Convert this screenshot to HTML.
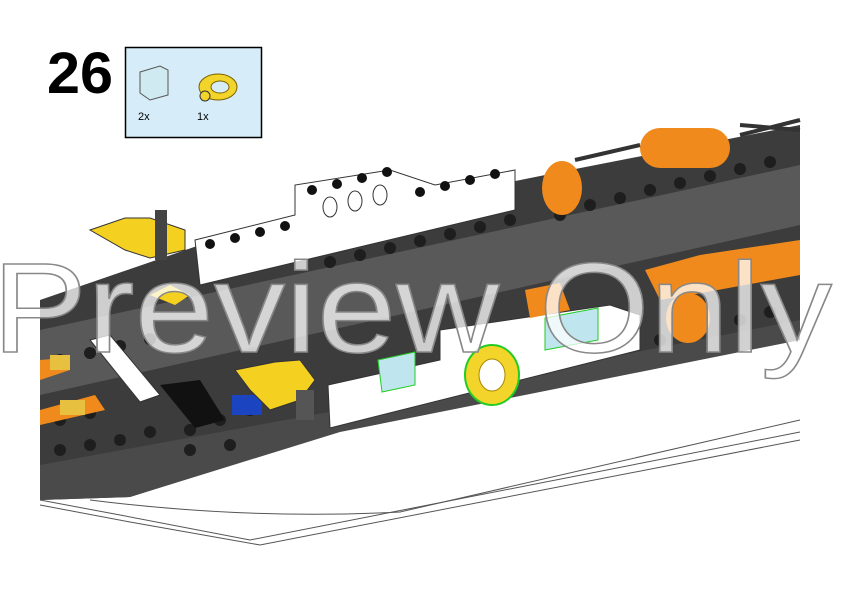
<!DOCTYPE html>
<html><head><style>
html,body{margin:0;padding:0;background:#fff;}
svg{display:block;}
</style></head><body>
<svg width="842" height="596" viewBox="0 0 842 596" xmlns="http://www.w3.org/2000/svg">
<rect width="842" height="596" fill="#fff"/>
<!-- hull lines -->
<g fill="none" stroke="#555" stroke-width="1">
<path d="M40,500 L120,515 L250,540 L800,432"/>
<path d="M40,505 L130,522 L260,545 L800,440"/>
<path d="M90,500 Q250,520 400,512 L800,420"/>
</g>
<!-- deck base -->
<polygon points="40,300 200,245 560,172 800,125 800,340 340,430 130,497 40,500" fill="#3c3c3c"/>
<!-- sloped lighter band -->
<polygon points="40,330 800,165 800,225 40,395" fill="#595959"/>
<!-- lower bottom band -->
<polygon points="40,465 340,410 800,320 800,340 340,432 130,497 40,500" fill="#4a4a4a"/>
<!-- studs upper rows -->
<g fill="#1e1e1e">
<circle cx="560" cy="215" r="6"/><circle cx="590" cy="205" r="6"/><circle cx="620" cy="198" r="6"/><circle cx="650" cy="190" r="6"/><circle cx="680" cy="183" r="6"/><circle cx="710" cy="176" r="6"/><circle cx="740" cy="169" r="6"/><circle cx="770" cy="162" r="6"/>
<circle cx="330" cy="262" r="6"/><circle cx="360" cy="255" r="6"/><circle cx="390" cy="248" r="6"/><circle cx="420" cy="241" r="6"/><circle cx="450" cy="234" r="6"/><circle cx="480" cy="227" r="6"/><circle cx="510" cy="220" r="6"/>
<circle cx="60" cy="360" r="6"/><circle cx="90" cy="353" r="6"/><circle cx="120" cy="346" r="6"/><circle cx="150" cy="339" r="6"/>
<circle cx="60" cy="420" r="6"/><circle cx="90" cy="413" r="6"/><circle cx="60" cy="450" r="6"/><circle cx="90" cy="445" r="6"/><circle cx="120" cy="440" r="6"/><circle cx="150" cy="432" r="6"/>
<circle cx="190" cy="430" r="6"/><circle cx="220" cy="420" r="6"/><circle cx="250" cy="410" r="6"/><circle cx="190" cy="450" r="6"/><circle cx="230" cy="445" r="6"/>
<circle cx="660" cy="340" r="6"/><circle cx="700" cy="330" r="6"/><circle cx="740" cy="320" r="6"/><circle cx="770" cy="312" r="6"/>
</g>
<!-- upper white bricks -->
<polygon points="195,240 295,215 295,185 390,170 435,185 515,170 515,210 200,285" fill="#fff" stroke="#333"/>
<g fill="#111"><circle cx="312" cy="190" r="5"/><circle cx="337" cy="184" r="5"/><circle cx="362" cy="178" r="5"/><circle cx="387" cy="172" r="5"/>
<circle cx="210" cy="244" r="5"/><circle cx="235" cy="238" r="5"/><circle cx="260" cy="232" r="5"/><circle cx="285" cy="226" r="5"/>
<circle cx="420" cy="192" r="5"/><circle cx="445" cy="186" r="5"/><circle cx="470" cy="180" r="5"/><circle cx="495" cy="174" r="5"/></g>
<g fill="none" stroke="#333"><ellipse cx="330" cy="207" rx="7" ry="10"/><ellipse cx="355" cy="201" rx="7" ry="10"/><ellipse cx="380" cy="195" rx="7" ry="10"/></g>
<!-- white lower bricks -->
<polygon points="328,385 440,360 440,330 610,305 640,315 640,350 330,428" fill="#fff" stroke="#333"/>
<polygon points="90,340 110,335 160,395 140,402" fill="#fff" stroke="#333"/>
<!-- trans clear -->
<polygon points="378,360 415,352 415,385 382,392" fill="#bfe6ee" stroke="#2c2"/>
<polygon points="545,318 598,308 598,340 545,350" fill="#bfe6ee" stroke="#2c2"/>
<!-- ring -->
<ellipse cx="492" cy="375" rx="27" ry="30" fill="#f2d42a" stroke="#2c2" stroke-width="2"/>
<ellipse cx="492" cy="375" rx="13" ry="16" fill="#fff" stroke="#a80"/>
<!-- black hole -->
<path d="M160,385 L200,380 L225,420 L195,428 Z" fill="#111"/>
<rect x="232" y="395" width="30" height="20" fill="#1a44c0"/>
<!-- orange elements -->
<ellipse cx="562" cy="188" rx="20" ry="27" fill="#f08a1c"/>
<rect x="640" y="128" width="90" height="40" rx="20" fill="#f08a1c"/>
<polygon points="645,270 700,255 800,240 800,275 690,295 660,300" fill="#f08a1c"/>
<ellipse cx="688" cy="318" rx="22" ry="25" fill="#f08a1c"/>
<polygon points="525,290 560,283 570,310 530,318" fill="#f08a1c"/>
<polygon points="40,360 65,358 70,370 40,380" fill="#f08a1c"/>
<polygon points="40,410 95,395 105,410 40,425" fill="#f08a1c"/>
<path d="M740,135 L800,120 M740,125 L800,130" stroke="#333" stroke-width="4"/>
<path d="M575,160 L640,145" stroke="#333" stroke-width="4"/>
<!-- yellow parts -->
<polygon points="90,230 125,218 150,218 185,230 185,250 150,258 125,250" fill="#f4d020" stroke="#333"/>
<rect x="155" y="210" width="12" height="50" fill="#444"/>
<polygon points="150,295 170,285 190,295 175,305" fill="#f4d020"/>
<polygon points="235,370 275,362 300,360 315,380 300,400 270,410 250,390" fill="#f4d020" stroke="#333"/>
<rect x="296" y="390" width="18" height="30" fill="#555"/>
<rect x="50" y="355" width="20" height="15" fill="#e8c040"/>
<rect x="60" y="400" width="25" height="15" fill="#e8c040"/>
<!-- watermark -->
<text x="-8" y="352" font-family="Liberation Sans, sans-serif" font-size="128" fill="#fff" fill-opacity="0.75" stroke="#888" stroke-width="1.5" textLength="840" lengthAdjust="spacingAndGlyphs">Preview Only</text>
<!-- step number -->
<text x="47" y="93" font-family="Liberation Sans, sans-serif" font-weight="bold" font-size="58" fill="#000" textLength="66" lengthAdjust="spacingAndGlyphs">26</text>
<!-- parts box -->
<rect x="125.5" y="47.5" width="136" height="90" fill="#d6ecf8" stroke="#000" stroke-width="1.5"/>
<polygon points="140,72 160,66 168,70 168,95 150,100 140,93" fill="#cfeaf0" stroke="#555"/>
<ellipse cx="218" cy="87" rx="19" ry="13" fill="#f2d42a" stroke="#7a6000"/>
<ellipse cx="220" cy="87" rx="9" ry="6" fill="#d6ecf8" stroke="#7a6000"/>
<circle cx="205" cy="96" r="5" fill="#f2d42a" stroke="#333"/>
<text x="138" y="120" font-family="Liberation Sans, sans-serif" font-size="11">2x</text>
<text x="197" y="120" font-family="Liberation Sans, sans-serif" font-size="11">1x</text>
</svg>
</body></html>
